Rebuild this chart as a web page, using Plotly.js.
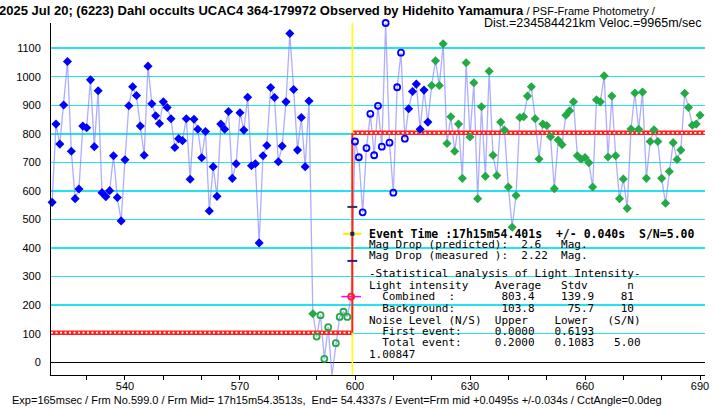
<!DOCTYPE html>
<html>
<head>
<meta charset="utf-8">
<script src="https://cdn.plot.ly/plotly-3.0.1.min.js"></script>
<style>html,body{margin:0;padding:0;background:#fff;}#chart{width:714px;height:410px;}</style>
</head>
<body>
<div id="chart"></div>
<script>
// ---- data ----
const frames = [
 521,522,523,524,525,526,527,528,529,530,
 531,532,533,534,535,536,537,538,539,540,
 541,542,543,544,545,546,547,548,549,550,
 551,552,553,554,555,556,557,558,559,560,
 561,562,563,564,565,566,567,568,569,570,
 571,572,573,574,575,576,577,578,579,580,
 581,582,583,584,585,586,587,588,589,590,
 591,592,593,594,595,596,597,598,599,600,
 601,602,603,604,605,606,607,608,609,610,
 611,612,613,614,615,616,617,618,619,620,
 621,622,623,624,625,626,627,628,629,630,
 631,632,633,634,635,636,637,638,639,640,
 641,642,643,644,645,646,647,648,649,650,
 651,652,653,654,655,656,657,658,659,660,
 661,662,663,664,665,666,667,668,669,670,
 671,672,673,674,675,676,677,678,679,680,
 681,682,683,684,685,686,687,688,689,690];
const intensity = [
 560,834,764,901,1053,739,573,607,827,821,
 989,755,951,594,580,601,723,577,495,709,
 898,965,934,827,725,1037,905,863,836,912,
 892,853,752,783,776,853,641,851,816,716,
 808,530,685,581,834,816,878,644,695,874,
 813,928,688,695,418,723,759,962,927,702,
 757,912,1151,955,743,857,685,915,170,90,
 165,12,123,-45,67,159,177,159,230,773,
 718,525,750,870,725,898,755,1188,769,594,
 963,1084,783,888,948,974,816,953,841,969,
 1056,969,1115,766,860,739,834,644,1049,789,
 979,573,895,651,1019,725,654,841,813,614,
 473,584,857,860,932,965,853,712,834,829,
 790,608,778,762,865,881,912,723,711,717,
 699,614,919,912,1003,719,932,723,573,642,
 539,817,943,816,946,644,773,814,773,644,
 557,668,769,710,743,942,892,830,834,865];

// point classes (frame ranges)
const blueFilledRanges = [[521,588],[614,619]];
const greenFilledRanges = [[589,589],[620,690]];
const greenHollowRanges = [[590,598]];
const eventFrameRanges = [[599,599]];
const blueHollowRanges = [[600,613]];

// step model / event
const eventFrame = 599.3;
const backgroundLevel = 103.8;
const combinedLevel = 803.4;
const eventMarkLevels = [544, 450, 355];

const xTickVals = [530,540,550,560,570,580,590,600,610,620,630,640,650,660,670,680,690];
const xTickText = ['','540','','','570','','','600','','','630','','','660','','','690'];
const yTickVals = [0,100,200,300,400,500,600,700,800,900,1000,1100];
const yTickText = ['0','100','200','300','400','500','600','700','800','900','1000','1100'];

const xRange = [520.7, 691.3];
const yRange = [-44.5, 1188];

// ---- layout geometry (pixels) ----
const W = 714, Hh = 410;
const M = {l:51, r:9, t:23, b:35};
const PW = W - M.l - M.r, PH = Hh - M.t - M.b;
const px2x = px => (px - M.l) / PW;
const py2y = py => (Hh - M.b - py) / PH;

function pick(ranges){
  const xs=[], ys=[];
  frames.forEach((f,i)=>{ if(ranges.some(r=>f>=r[0]&&f<=r[1])){xs.push(f);ys.push(intensity[i]);} });
  return {x:xs,y:ys};
}

const BLUE = '#0000FF', GREEN = '#22AA44';
const traces = [];
// connecting line
traces.push({x:frames, y:intensity, mode:'lines', line:{color:'rgba(120,120,255,0.6)', width:1.3}, hoverinfo:'skip'});
// step model (chain style)
const stepLowX = [xRange[0], eventFrame], stepLowY = [backgroundLevel, backgroundLevel];
const stepHighX = [eventFrame, xRange[1]], stepHighY = [combinedLevel, combinedLevel];
[[stepLowX,stepLowY],[stepHighX,stepHighY]].forEach(([sx,sy])=>{
  traces.push({x:sx,y:sy,mode:'lines',line:{color:'#FF2020',width:4.5},hoverinfo:'skip'});
  traces.push({x:sx,y:sy,mode:'lines',line:{color:'#FFFFFF',width:1.6,dash:'2px,2.5px'},hoverinfo:'skip'});
});
// yellow event line
traces.push({x:[eventFrame,eventFrame], y:yRange, mode:'lines', line:{color:'#FFFF00', width:1.6}, hoverinfo:'skip', cliponaxis:false});
// red vertical step
traces.push({x:[eventFrame,eventFrame], y:[backgroundLevel,combinedLevel], mode:'lines', line:{color:'#FF2020', width:2}, hoverinfo:'skip'});

function markers(ranges, symbol, color, size, lw){
  const p = pick(ranges);
  return {x:p.x, y:p.y, mode:'markers', cliponaxis:false, hoverinfo:'skip',
    marker:{symbol:symbol, size:size, color:color, line:{color:color, width:lw}}};
}
traces.push(markers(blueFilledRanges,'diamond',BLUE,7,0));
traces.push(markers(greenFilledRanges,'diamond',GREEN,7,0));
traces.push(markers(greenHollowRanges,'circle-open',GREEN,6,1.8));
traces.push(markers(blueHollowRanges,'circle-open',BLUE,6,1.8));
// event frame point with magenta cross
const ev = pick(eventFrameRanges);
traces.push({x:ev.x.map(()=>eventFrame-0.3), y:ev.y, mode:'markers', cliponaxis:false, hoverinfo:'skip',
  marker:{symbol:'line-ew', size:14, line:{color:'#FF00FF', width:1.5}}});
traces.push(markers(eventFrameRanges,'circle-open','#FF2020',6,1.8));
// event time marks on the line
traces.push({x:[eventFrame], y:[eventMarkLevels[0]], mode:'markers', hoverinfo:'skip',
  marker:{symbol:'line-ew', size:7, line:{color:'#333355', width:2}}});
traces.push({x:[eventFrame], y:[eventMarkLevels[1]], mode:'markers', hoverinfo:'skip',
  marker:{symbol:'line-ew', size:13, line:{color:'#EEEE00', width:2}}});
traces.push({x:[eventFrame], y:[eventMarkLevels[1]], mode:'markers', hoverinfo:'skip',
  marker:{symbol:'square', size:4, color:'#222244'}});
traces.push({x:[eventFrame], y:[eventMarkLevels[2]], mode:'markers', hoverinfo:'skip',
  marker:{symbol:'line-ew', size:7, line:{color:'#222288', width:2}}});

// ---- texts ----
const mono = 'DejaVu Sans Mono, monospace';
function ann(text, px, py, opts){
  return Object.assign({xref:'paper', yref:'paper', x:px2x(px), y:py2y(py), xanchor:'left', yanchor:'middle', borderpad:0,
    text:text, showarrow:false, font:{family:mono, size:11, color:'#000'}}, opts||{});
}
const statLines = [
 ['Mag Drop (predicted):  2.6   Mag.', 245],
 ['Mag Drop (measured ):  2.22  Mag.', 256],
 ['-Statistical analysis of Light Intensity-', 273],
 ['Light intensity    Average   Stdv      n', 285],
 ['  Combined  :       803.4    139.9    81', 296.5],
 ['  Background:       103.8     75.7    10', 308],
 ['Noise Level (N/S)  Upper    Lower   (S/N)', 320],
 ['  First event:     0.0000   0.6193', 331],
 ['  Total event:     0.2000   0.1083   5.00', 342.5],
 ['1.00847', 354]
];
const annotations = [];
annotations.push(ann('<b>Event Time :17h15m54.401s  +/- 0.040s  S/N=5.00</b>', 368, 233.5, {font:{family:mono, size:11.5, color:'#000'}}));
statLines.forEach(([t,y])=>annotations.push(ann(t.replace(/ /g,'&nbsp;'), 368, y)));
const sans = 'Liberation Sans, Arial, sans-serif';
annotations.push(ann('<b>2025 Jul 20; (6223) Dahl occults UCAC4 364-179972 Observed by Hidehito Yamamura</b><span style="font-size:11px"> / PSF-Frame Photometry /</span>', -2, 11, {font:{family:sans, size:13, color:'#000'}}));
annotations.push(ann('Dist.=234584421km Veloc.=9965m/sec', 703, 23, {xanchor:'right', font:{family:sans, size:12.5, color:'#000'}}));
annotations.push(ann('Exp=165msec / Frm No.599.0 / Frm Mid= 17h15m54.3513s,  End= 54.4337s / Event=Frm mid +0.0495s +/-0.034s / CctAngle=0.0deg', 11, 399.5, {font:{family:sans, size:11, color:'#000'}}));

const layout = {
  width:W, height:Hh, margin:M, paper_bgcolor:'#fff', plot_bgcolor:'#fff', showlegend:false,
  xaxis:{range:xRange, tickmode:'array', tickvals:xTickVals, ticktext:xTickText, ticks:'outside', ticklen:4, tickcolor:'#000', tickwidth:1,
    showline:true, linecolor:'#000', linewidth:1, showgrid:false, zeroline:false, tickfont:{family:sans, size:11, color:'#000'}, ticklabelstandoff:-3},
  yaxis:{range:yRange, tickmode:'array', tickvals:yTickVals, ticktext:yTickText, ticks:'', showline:true, linecolor:'#000', linewidth:1,
    showgrid:true, gridcolor:'#22E4F0', gridwidth:1.5, zeroline:true, zerolinecolor:'#000', zerolinewidth:1.3,
    tickfont:{family:sans, size:11, color:'#000'}, ticklabelstandoff:7},
  annotations:annotations
};
Plotly.newPlot('chart', traces, layout, {staticPlot:true, displayModeBar:false});
</script>
</body>
</html>
